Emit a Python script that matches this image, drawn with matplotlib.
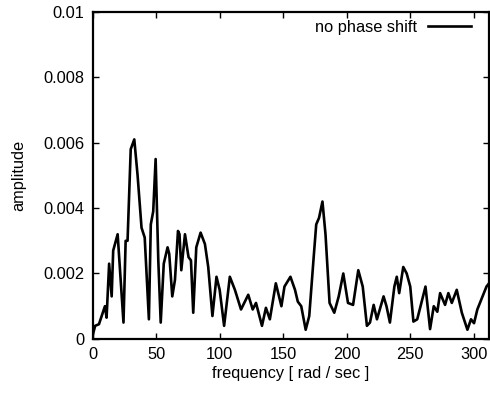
import numpy as np
import matplotlib.pyplot as plt

plt.rcParams['font.family'] = ['Liberation Sans', 'DejaVu Sans']

# frequency [rad/sec] and amplitude
freq = [0, 2, 5, 9.7, 11, 13, 15, 16.2, 19.7, 24.3, 26, 27.5, 30, 32.8, 35.4,
        38.5, 41, 44.3, 45.8, 47.7, 49.6, 51.7, 53.6, 56, 59, 60.3, 62.7,
        64.8, 67.2, 68.4, 69.8, 72.7, 75.5, 77.4, 79.2, 81.6, 85, 88.4, 91,
        94.3, 97.5, 100, 103.5, 108, 112, 116.8, 122.5, 126, 128.6, 133.3,
        136.4, 139.5, 144.2, 148.6, 151, 155.7, 159.3, 161.5, 164.2, 167.7,
        170.5, 174, 176, 178.2, 180.9, 183.3, 186.5, 190.2, 193.7, 197.3,
        201, 205, 209.1, 212.6, 215.9, 218.3, 221.2, 223.8, 229, 231.3, 234,
        237.5, 239.4, 241.3, 244.5, 247.2, 250, 252.5, 255.5, 262, 265.6,
        268.5, 271.3, 273.5, 277.4, 280, 282.7, 286.6, 290.6, 295, 297.8,
        300.2, 302.8, 310, 312]
amp = [0.0001, 0.0004, 0.00045, 0.001, 0.00065, 0.0023, 0.0013, 0.0027,
       0.0032, 0.0005, 0.003, 0.003, 0.0058, 0.0061, 0.005, 0.0034, 0.0031,
       0.0006, 0.0035, 0.0039, 0.0055, 0.0024, 0.0005, 0.0023, 0.0028,
       0.0026, 0.0013, 0.0018, 0.0033, 0.0032, 0.0021, 0.0032, 0.0025,
       0.0024, 0.0008, 0.0028, 0.00325, 0.0029, 0.0022, 0.0007, 0.0019,
       0.0015, 0.0004, 0.0019, 0.0015, 0.0009, 0.00135, 0.0009, 0.0011,
       0.0004, 0.00095, 0.0006, 0.0017, 0.001, 0.0016, 0.0019, 0.0015,
       0.00114, 0.001, 0.00028, 0.0007, 0.0025, 0.0035, 0.0037, 0.0042,
       0.0032, 0.0011, 0.0008, 0.0013, 0.002, 0.0011, 0.00104, 0.0021,
       0.0016, 0.0004, 0.0005, 0.00104, 0.0006, 0.0013, 0.001, 0.0005,
       0.0016, 0.0019, 0.0014, 0.0022, 0.002, 0.0016, 0.00053, 0.0006,
       0.0016, 0.0003, 0.001, 0.00083, 0.0014, 0.00104, 0.0014, 0.0011,
       0.0015, 0.0008, 0.00028, 0.0006, 0.00048, 0.0009, 0.0016, 0.0017]

xticks = [0, 50, 100, 150, 200, 250, 300]
yticks = [0, 0.002, 0.004, 0.006, 0.008, 0.01]
ylabels = ['0', '0.002', '0.004', '0.006', '0.008', '0.01']

fig = plt.figure(figsize=(4.9, 3.95), dpi=100)
ax = fig.add_axes([0.189, 0.142, 0.809, 0.828])

ax.plot(freq, amp, color='black', lw=1.9, solid_joinstyle='round',
        label='no phase shift')

ax.set_xlim(0, 312)
ax.set_ylim(0, 0.01)
ax.set_xticks(xticks)
ax.set_yticks(yticks)
ax.set_yticklabels(ylabels)
ax.tick_params(direction='in', length=4, width=1, top=True, right=True,
               labelsize=11.8, pad=6)
for s in ax.spines.values():
    s.set_linewidth(1.6)

ax.set_xlabel('frequency [ rad / sec ]', fontsize=11.8, labelpad=3)
ax.set_ylabel('amplitude', fontsize=11.8, labelpad=12)

ax.legend(loc='upper right', frameon=False, markerfirst=False,
          handlelength=2.6, handletextpad=0.7, fontsize=11.8,
          borderaxespad=0.1, bbox_to_anchor=(0.975, 1.0))

fig.savefig('out.png', dpi=100)
